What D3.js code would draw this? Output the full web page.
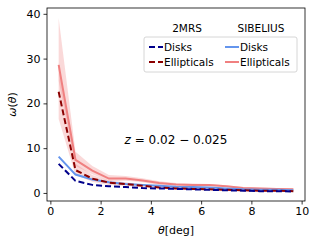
<!DOCTYPE html>
<html>
<head>
<meta charset="utf-8">
<script src="https://cdn.jsdelivr.net/npm/d3@7"></script>
<style>
  body { margin: 0; background: #fff; }
  svg text { font-family: "DejaVu Sans", sans-serif; }
</style>
</head>
<body>
<div id="chart"></div>
<script>
// angular bins (deg)
let theta = [0.33, 1.0, 1.67, 2.33, 3.0, 3.67, 4.33, 5.0, 5.67, 6.33, 7.0, 7.67, 8.33, 9.0, 9.67];

// SIBELIUS
let sibEll = [28.6, 7.4, 5.0, 3.2, 3.2, 2.8, 2.2, 1.9, 1.8, 1.8, 1.5, 1.1, 1.0, 0.9, 0.8];
let sibEllHi = [39.0, 9.2, 6.0, 4.0, 3.8, 3.3, 2.6, 2.2, 2.1, 2.0, 1.7, 1.3, 1.2, 1.1, 1.0];
let sibEllLo = [25.0, 6.0, 4.2, 2.6, 2.7, 2.4, 1.8, 1.6, 1.5, 1.5, 1.3, 0.9, 0.8, 0.7, 0.6];
let sibDisk = [8.1, 4.1, 3.0, 2.4, 2.0, 1.8, 1.6, 1.4, 1.3, 1.2, 1.0, 0.8, 0.7, 0.7, 0.6];

// 2MRS
let mrsEll = [22.6, 5.1, 3.2, 2.3, 2.0, 1.6, 1.2, 1.0, 0.9, 0.8, 0.7, 0.6, 0.5, 0.5, 0.4];
let mrsEllHi = [29.0, 6.5, 4.0, 2.8, 2.4, 1.9, 1.5, 1.3, 1.1, 1.0, 0.9, 0.8, 0.7, 0.6, 0.6];
let mrsEllLo = [16.5, 4.0, 2.5, 1.8, 1.6, 1.3, 1.0, 0.8, 0.7, 0.6, 0.5, 0.4, 0.4, 0.3, 0.3];
let mrsDisk = [6.5, 2.7, 1.8, 1.5, 1.3, 1.1, 1.0, 0.9, 0.8, 0.7, 0.6, 0.5, 0.4, 0.4, 0.3];

let xTicks = [0, 2, 4, 6, 8, 10];
let yTicks = [0, 10, 20, 30, 40];

let width = 318, height = 246;
let mLeft = 47, mRight = 305, mTop = 8, mBottom = 201;

let x = d3.scaleLinear().domain([-0.134, 10.134]).range([mLeft, mRight]);
let y = d3.scaleLinear().domain([-1.8, 41.3]).range([mBottom, mTop]);

let svg = d3.select("#chart")
  .append("svg")
  .attr("width", width)
  .attr("height", height);

let line = d3.line()
  .x(function(d) { return x(d[0]); })
  .y(function(d) { return y(d[1]); });

let area = d3.area()
  .x(function(d) { return x(d[0]); })
  .y0(function(d) { return y(d[1]); })
  .y1(function(d) { return y(d[2]); });

function band(lo, hi) {
  return theta.map(function(t, i) { return [t, lo[i], hi[i]]; });
}
function pts(vals) {
  return theta.map(function(t, i) { return [t, vals[i]]; });
}

let plot = svg.append("g");

/* Полосы ошибок */
plot.append("path")
  .attr("d", area(band(sibEllLo, sibEllHi)))
  .attr("fill", "#F08080")
  .attr("fill-opacity", 0.3);

plot.append("path")
  .attr("d", area(band(mrsEllLo, mrsEllHi)))
  .attr("fill", "#F08080")
  .attr("fill-opacity", 0.3);

/* Линии */
let series = [
  { vals: sibEll, color: "#F08080", dash: null },
  { vals: sibDisk, color: "#6495ED", dash: null },
  { vals: mrsEll, color: "#8B0000", dash: "6,3" },
  { vals: mrsDisk, color: "#00008B", dash: "6,3" }
];

series.forEach(function(s) {
  plot.append("path")
    .attr("d", line(pts(s.vals)))
    .attr("fill", "none")
    .attr("stroke", s.color)
    .attr("stroke-width", 2)
    .attr("stroke-dasharray", s.dash);
});

/* Оси */
let xAxis = svg.append("g")
  .attr("transform", "translate(0," + mBottom + ")")
  .call(d3.axisBottom(x).tickValues(xTicks).tickSize(3.5).tickPadding(3));

let yAxis = svg.append("g")
  .attr("transform", "translate(" + mLeft + ",0)")
  .call(d3.axisLeft(y).tickValues(yTicks).tickSize(3.5).tickPadding(3));

[xAxis, yAxis].forEach(function(a) {
  a.select(".domain").remove();
  a.selectAll("text").attr("font-size", 11).attr("fill", "#000").style("font-family", "DejaVu Sans");
  a.selectAll("line").attr("stroke", "#000").attr("stroke-width", 0.8);
});

svg.append("rect")
  .attr("x", mLeft)
  .attr("y", mTop)
  .attr("width", mRight - mLeft)
  .attr("height", mBottom - mTop)
  .attr("fill", "none")
  .attr("stroke", "#000")
  .attr("stroke-width", 0.8);

svg.append("text")
  .attr("x", (mLeft + mRight) / 2)
  .attr("y", 234)
  .attr("text-anchor", "middle")
  .attr("font-size", 11)
  .html('<tspan font-style="italic">θ</tspan>[deg]');

svg.append("text")
  .attr("transform", "translate(16," + (mTop + mBottom) / 2 + ") rotate(-90)")
  .attr("text-anchor", "middle")
  .attr("font-size", 11)
  .html('<tspan font-style="italic">ω</tspan>(<tspan font-style="italic">θ</tspan>)');

svg.append("text")
  .attr("x", 176)
  .attr("y", 144)
  .attr("text-anchor", "middle")
  .attr("font-size", 12)
  .html('<tspan font-style="italic">z</tspan> = 0.02 − 0.025');

/* Легенда */
let legend = svg.append("g");

legend.append("rect")
  .attr("x", 144)
  .attr("y", 37)
  .attr("width", 153)
  .attr("height", 35)
  .attr("rx", 2)
  .attr("fill", "#fff")
  .attr("fill-opacity", 0.8)
  .attr("stroke", "#ccc")
  .attr("stroke-width", 0.8);

let titles = [
  { text: "2MRS", x: 187 },
  { text: "SIBELIUS", x: 261 }
];
titles.forEach(function(t) {
  legend.append("text")
    .attr("x", t.x)
    .attr("y", 32)
    .attr("text-anchor", "middle")
    .attr("font-size", 10.5)
    .attr("font-weight", "500")
    .text(t.text);
});

let entries = [
  { label: "Disks", color: "#00008B", dash: "6,3", x: 149, y: 47 },
  { label: "Ellipticals", color: "#8B0000", dash: "6,3", x: 149, y: 62 },
  { label: "Disks", color: "#6495ED", dash: null, x: 225, y: 47 },
  { label: "Ellipticals", color: "#F08080", dash: null, x: 225, y: 62 }
];
entries.forEach(function(e) {
  legend.append("line")
    .attr("x1", e.x)
    .attr("x2", e.x + 14)
    .attr("y1", e.y)
    .attr("y2", e.y)
    .attr("stroke", e.color)
    .attr("stroke-width", 2)
    .attr("stroke-dasharray", e.dash);
  legend.append("text")
    .attr("x", e.x + 15)
    .attr("y", e.y + 4)
    .attr("font-size", 10.5)
    .text(e.label);
});
</script>
</body>
</html>
